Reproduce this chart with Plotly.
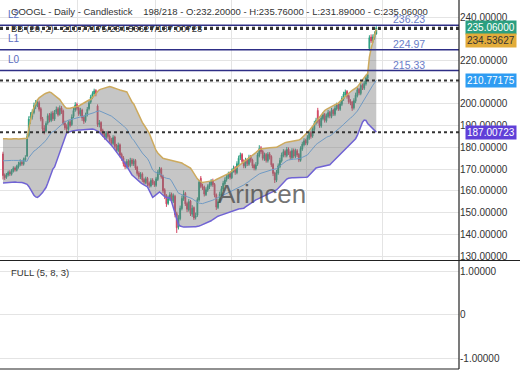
import plotly.graph_objects as go

# ---------------- data ----------------
opens = [177.0,167.2,166.2,167.3,168.6,167.6,169.0,170.5,169.4,171.0,
         172.0,173.2,172.2,174.3,176.0,185.5,193.5,194.0,196.0,199.0,
         200.2,200.5,197.8,193.2,188.8,187.5,191.2,194.8,192.4,195.8,
         193.0,196.2,197.8,195.2,198.2,196.8,191.2,189.5,188.2,191.8,
         190.5,194.2,197.2,199.8,198.0,195.2,197.2,193.8,192.2,195.0,
         197.8,200.8,203.0,204.6,206.2,199.0,190.5,191.5,187.8,186.2,
         184.5,186.8,185.2,183.5,181.8,184.8,180.8,178.5,181.2,176.8,
         175.2,172.8,171.0,173.8,171.5,174.2,172.3,174.0,170.8,168.2,
         166.3,167.8,165.2,163.8,165.8,163.5,162.2,165.0,163.8,162.5,
         165.2,168.3,170.2,166.8,160.5,157.8,154.2,156.2,158.5,155.2,
         157.5,149.5,143.2,147.2,151.8,156.3,158.8,154.2,151.2,155.3,
         149.2,152.3,147.8,148.8,155.8,165.8,162.0,161.8,158.2,160.3,
         161.8,162.8,164.8,163.0,158.2,152.3,155.2,158.2,160.8,163.2,
         165.2,166.2,168.0,166.0,169.2,170.8,168.3,172.2,175.2,176.8,
         173.8,171.2,174.2,172.2,175.8,174.2,171.8,170.2,172.2,176.2,
         179.8,178.2,174.8,176.8,173.8,177.0,175.8,172.2,168.2,164.8,
         168.2,171.2,173.8,176.3,178.2,176.2,179.2,177.8,175.2,178.8,
         175.8,178.5,176.8,174.0,179.2,181.2,183.3,181.8,184.2,186.8,
         185.2,188.2,191.2,197.0,192.2,189.8,193.2,195.2,192.2,194.2,
         196.2,194.2,197.2,195.2,197.8,199.8,197.5,199.8,202.2,204.2,
         205.8,203.8,201.2,200.8,198.2,201.2,203.8,206.8,204.8,208.8,
         207.2,209.2,211.8,225.5,230.8,228.8,230.5,232.2]
highs = [178.0,168.0,168.2,169.3,169.5,170.0,171.3,171.2,172.0,173.4,
         174.5,174.0,175.3,176.4,186.2,194.3,196.2,197.5,200.6,201.8,
         202.2,201.5,198.5,194.0,190.2,192.0,195.6,195.8,196.5,196.8,
         197.2,198.8,198.6,199.3,199.0,197.4,192.3,190.6,192.4,192.8,
         195.2,198.4,200.8,200.6,198.8,198.2,197.8,194.6,196.0,198.6,
         201.6,204.2,205.8,207.0,206.8,199.8,192.6,192.0,188.6,187.0,
         187.5,187.6,186.0,184.4,185.6,185.4,181.6,182.2,181.8,177.6,
         176.0,173.6,174.6,174.5,175.2,175.0,174.8,174.6,171.5,169.0,
         168.6,168.5,166.0,166.5,166.4,164.3,165.8,165.8,164.6,166.4,
         169.5,171.0,170.8,167.4,161.2,158.5,157.8,159.4,159.2,158.8,
         158.2,150.4,148.8,153.2,157.8,160.2,159.5,155.0,156.2,155.8,
         153.4,152.8,150.0,157.0,165.0,166.8,163.2,162.4,161.6,163.0,
         164.2,165.4,165.6,163.6,158.8,156.2,159.6,162.2,164.6,166.2,
         167.6,168.8,168.8,170.2,171.6,171.4,173.6,176.2,177.6,177.4,
         174.5,175.2,175.0,176.6,176.5,174.8,172.5,173.2,177.5,181.0,
         180.6,178.8,177.6,177.4,177.8,177.8,176.4,172.8,168.8,169.6,
         172.6,175.2,177.6,179.2,179.0,180.2,180.0,178.5,179.6,179.5,
         179.4,179.2,177.4,180.5,182.6,184.2,184.0,185.6,187.6,187.6,
         189.6,192.2,193.6,198.2,193.0,194.6,196.2,195.8,195.6,197.2,
         196.8,198.2,197.8,199.2,200.6,200.4,201.2,203.6,205.6,206.6,
         206.4,204.4,202.2,201.4,202.6,205.2,207.6,207.4,209.6,209.4,
         210.6,213.2,214.6,231.6,232.0,232.0,233.4,235.76]
lows = [165.2,165.0,165.5,166.6,166.8,167.0,168.4,168.8,168.9,170.2,
        171.3,171.5,171.6,173.5,175.5,184.6,190.8,192.8,195.2,197.6,
        198.5,196.5,192.0,187.5,186.0,186.8,190.4,191.5,191.6,192.2,
        192.2,195.3,194.2,194.6,195.4,190.2,188.0,187.3,187.6,189.2,
        189.8,193.5,196.4,197.0,194.5,194.4,192.2,190.8,191.4,194.2,
        197.0,200.0,202.2,203.8,203.5,189.4,189.2,186.6,184.8,183.6,
        183.6,184.0,182.2,181.0,181.0,179.6,177.6,177.8,175.4,173.8,
        171.2,170.0,170.2,170.8,170.8,171.5,171.4,169.6,167.0,165.4,
        165.4,164.0,163.0,163.0,162.2,161.4,161.6,162.6,161.8,161.8,
        164.5,167.4,165.6,159.0,156.2,152.6,153.4,155.4,154.4,154.4,
        147.8,140.6,142.2,146.4,151.0,155.4,153.0,150.2,150.4,148.4,
        148.0,146.6,146.8,148.0,155.0,161.2,160.4,157.4,157.6,159.5,
        160.8,162.0,161.8,157.0,151.2,151.6,154.4,157.4,160.0,162.4,
        164.2,165.4,165.2,165.4,168.4,167.4,167.6,171.4,174.2,172.5,
        170.4,170.4,171.4,171.5,173.0,170.4,169.4,169.4,171.5,175.4,
        177.0,174.0,173.8,173.0,173.0,174.4,171.0,166.8,163.6,164.0,
        167.4,170.4,173.0,175.4,175.4,175.4,176.5,174.4,174.4,175.0,
        175.0,175.5,173.2,173.4,178.4,180.4,181.0,181.0,183.4,184.0,
        184.4,187.4,190.4,191.0,189.0,189.0,192.4,191.4,191.4,193.4,
        193.4,193.4,194.5,194.4,197.0,196.8,196.8,199.0,201.4,203.4,
        202.4,200.0,199.4,196.8,197.4,200.4,203.0,204.0,204.0,206.4,
        206.4,208.4,211.0,224.5,228.0,228.0,229.6,231.89]
closes = [167.0,166.0,167.5,168.5,167.8,169.2,170.4,169.6,171.3,172.2,
          173.0,172.4,174.5,175.2,185.0,193.0,194.5,196.3,199.2,200.5,
          200.8,197.5,193.0,188.5,187.2,191.0,194.5,192.6,195.5,193.2,
          196.0,197.5,195.0,198.0,196.5,191.0,189.0,188.5,191.5,190.0,
          194.0,197.0,199.5,198.0,195.5,197.0,193.5,192.0,195.0,197.5,
          200.5,203.2,204.8,206.0,204.6,190.5,191.2,187.5,186.0,184.8,
          186.5,185.0,183.2,182.0,184.5,180.5,178.8,181.0,176.5,175.0,
          172.5,171.0,173.5,171.8,174.0,172.5,173.8,170.5,168.0,166.5,
          167.5,165.0,164.0,165.5,163.2,162.5,164.8,163.5,162.8,165.5,
          168.5,170.0,166.5,160.0,157.5,154.0,156.5,158.2,155.5,157.8,
          149.0,143.0,147.5,152.0,156.5,158.5,154.0,151.5,155.0,149.5,
          152.0,147.5,148.5,156.0,164.0,162.0,161.5,158.5,160.5,162.0,
          163.0,164.5,162.8,158.0,152.5,155.0,158.5,161.0,163.5,165.0,
          166.5,167.8,166.2,169.0,170.5,168.5,172.5,175.0,176.5,173.5,
          171.5,174.0,172.5,175.5,174.0,171.5,170.5,172.0,176.5,179.5,
          178.0,175.0,176.5,174.0,176.8,175.5,172.0,168.0,165.0,168.5,
          171.5,174.0,176.5,178.0,176.5,179.0,177.5,175.5,178.5,176.0,
          178.2,176.5,174.2,179.5,181.5,183.0,182.0,184.5,186.5,185.0,
          188.5,191.0,192.5,192.0,190.0,193.5,195.0,192.5,194.5,196.0,
          194.5,197.0,195.5,198.0,199.5,197.8,200.0,202.5,204.5,205.5,
          203.5,201.0,200.5,198.0,201.5,204.0,206.5,205.0,208.5,207.5,
          209.5,212.0,213.5,230.5,229.0,230.8,232.2,235.06]

bb_upper = [184.0,184.1,184.0,183.9,183.8,183.9,184.0,184.1,184.0,183.9,
            183.9,184.0,183.9,184.0,184.2,188.5,192.5,196.0,198.5,200.4,
            201.8,202.8,203.5,204.0,204.5,204.9,205.2,205.5,205.2,204.6,
            204.0,203.4,202.7,202.0,200.8,199.6,198.6,198.0,197.9,198.0,
            198.2,198.4,198.6,198.7,199.0,199.5,200.0,200.6,201.2,201.6,
            201.8,202.0,202.8,203.7,204.7,205.7,206.5,206.8,207.1,207.4,
            207.7,207.9,208.0,207.8,207.6,207.3,207.0,206.7,206.4,206.1,
            205.8,205.6,205.5,204.0,202.2,200.9,200.0,198.2,196.4,194.6,
            193.0,191.5,190.3,189.1,187.8,186.6,184.5,182.2,180.0,178.6,
            177.4,176.6,175.8,175.0,174.8,174.6,174.4,174.2,174.0,173.8,
            173.6,173.4,173.3,173.3,172.8,172.3,171.8,171.2,170.8,170.5,
            169.3,168.0,166.8,165.5,164.8,164.2,163.8,164.0,164.1,164.2,
            164.3,164.4,164.5,164.8,165.2,165.6,166.0,166.3,166.7,167.0,
            167.3,167.9,168.5,169.1,169.7,170.4,171.0,171.6,172.2,172.8,
            173.4,174.0,174.2,174.8,175.5,176.2,176.9,177.6,178.3,179.0,
            179.2,179.4,179.5,179.6,179.7,179.8,179.9,180.0,180.0,180.0,
            180.5,181.0,181.5,182.0,182.2,182.4,182.5,182.7,182.9,183.1,
            183.2,183.3,183.4,183.8,184.6,185.4,186.0,186.6,187.6,188.7,
            189.8,190.9,192.0,193.0,194.0,195.0,196.0,197.0,197.5,198.0,
            198.4,198.8,199.2,199.6,200.0,200.4,201.2,202.0,202.8,203.6,
            204.3,205.0,205.6,206.2,206.8,207.3,207.8,208.9,210.1,211.3,
            212.4,213.2,214.0,221.5,225.5,229.0,231.8,234.53627]
bb_middle = [173.8,173.9,173.9,173.9,173.9,174.0,174.0,174.1,174.0,174.0,
             173.9,173.9,173.8,173.7,173.6,175.3,176.5,177.6,178.3,178.8,
             179.4,180.2,180.9,181.6,182.5,183.2,184.4,185.7,186.7,187.3,
             187.5,188.3,189.1,189.9,190.4,191.1,191.7,192.3,192.5,192.7,
             192.9,193.1,193.2,193.4,193.5,193.8,194.1,194.4,194.8,195.0,
             195.2,195.3,195.7,196.0,196.4,196.6,196.8,196.5,196.2,195.9,
             195.6,195.3,195.0,194.4,193.8,193.2,192.5,191.9,191.2,190.6,
             189.9,189.1,188.4,186.9,185.3,184.1,183.3,182.0,180.7,179.5,
             178.4,177.4,176.5,175.7,174.8,173.4,171.6,169.6,168.8,168.4,
             168.1,168.1,167.3,166.5,166.1,165.8,165.6,165.5,164.5,163.2,
             161.7,160.2,158.9,158.6,158.1,157.8,157.6,157.3,157.1,157.0,
             156.4,155.8,155.2,154.5,154.3,154.2,154.1,154.4,154.6,154.8,
             155.0,155.3,155.7,156.1,156.6,157.0,157.3,157.6,158.0,158.3,
             158.5,158.9,159.3,159.8,160.2,160.7,161.2,161.6,162.0,162.4,
             162.7,163.3,163.7,164.3,165.0,165.6,166.2,166.7,167.3,167.8,
             168.1,168.4,168.7,168.8,169.1,169.3,169.6,169.8,170.0,170.2,
             170.9,171.5,172.3,173.0,173.5,173.9,174.2,174.4,174.5,174.6,
             174.6,174.7,174.8,175.0,175.4,175.9,176.2,176.5,177.5,178.5,
             179.4,180.4,181.3,181.9,182.5,183.1,183.7,184.3,184.6,185.0,
             185.2,185.8,186.4,187.0,187.6,188.2,189.0,189.8,190.6,191.4,
             192.2,192.8,193.5,194.1,194.9,195.7,196.7,198.0,199.4,200.8,
             202.2,203.3,204.4,205.8,207.3,208.6,209.7,210.77175]
bb_lower = [163.6,163.7,163.8,163.8,163.9,164.0,164.0,164.1,164.0,164.0,
            163.9,163.8,163.6,163.3,163.0,162.0,160.5,159.2,158.0,157.2,
            157.0,157.5,158.3,159.2,160.4,161.5,163.5,165.8,168.2,170.0,
            171.0,173.2,175.5,177.8,180.0,182.5,184.8,186.6,187.0,187.3,
            187.5,187.7,187.8,188.0,188.0,188.0,188.1,188.2,188.3,188.4,
            188.5,188.5,188.5,188.3,188.0,187.5,187.0,186.2,185.3,184.4,
            183.5,182.7,182.0,181.0,180.0,179.0,178.0,177.0,176.0,175.0,
            174.0,172.6,171.2,169.8,168.3,167.3,166.6,165.8,165.0,164.4,
            163.8,163.2,162.6,162.2,161.8,160.2,158.6,157.0,157.6,158.2,
            158.8,159.5,158.8,158.0,157.3,156.9,156.8,156.7,155.0,152.5,
            149.8,147.0,144.5,143.8,143.4,143.3,143.3,143.4,143.4,143.4,
            143.5,143.5,143.5,143.5,143.8,144.1,144.4,144.7,145.0,145.3,
            145.6,146.2,146.8,147.4,148.0,148.3,148.6,148.9,149.2,149.5,
            149.7,149.8,150.1,150.4,150.7,151.0,151.3,151.6,151.8,152.0,
            152.0,152.6,153.2,153.8,154.4,155.0,155.4,155.8,156.2,156.6,
            157.0,157.4,157.8,158.0,158.4,158.8,159.2,159.6,160.0,160.4,
            161.2,162.0,163.0,164.0,164.8,165.4,165.8,166.0,166.0,166.0,
            166.0,166.0,166.1,166.2,166.2,166.3,166.3,166.4,167.3,168.2,
            169.0,169.8,170.5,170.7,170.9,171.1,171.3,171.5,171.7,171.9,
            172.0,172.8,173.6,174.4,175.2,176.0,176.8,177.6,178.4,179.2,
            180.0,180.6,181.3,182.0,183.0,184.0,185.5,187.5,189.8,191.6,
            192.6,192.4,191.0,190.2,189.2,188.3,187.6,187.00723]

level_names = ["L2", "L1", "L0"]
level_values = [236.23, 224.97, 215.33]
last_close = 235.06
price_ticks = [130, 140, 150, 160, 170, 180, 190, 200, 210, 220, 230, 240]
# 210 and 230 labels are covered by value boxes in the reference
price_tick_text = ["130.00000", "140.00000", "150.00000", "160.00000", "170.00000",
                   "180.00000", "190.00000", "200.00000", "", "220.00000", "", "240.00000"]
osc_ticks = [-1, 0, 1]
osc_labels = ["-1.00000", "0", "1.00000"]
header = ("GOOGL - Daily - Candlestick\u00a0\u00a0\u00a0\u00a0198/218 - O:232.20000 - "
          "H:235.76000 - L:231.89000 - C:235.06000")

n = len(closes)
for arr in (opens, highs, lows, bb_upper, bb_middle, bb_lower):
    assert len(arr) == n, len(arr)
idx = list(range(n))

# ---------------- layout geometry ----------------
W, H = 520, 390
ML, MR, MT, MB = 0, 61, 0, 21
PW = W - ML - MR          # 459
PH = H - MT - MB          # 369
def px(x):  # pixel x -> paper
    return (x - ML) / PW
def py(y):  # pixel y -> paper
    return (PH - (y - MT)) / PH

FONT = "Liberation Sans, Arial, sans-serif"
GREEN = "#2b9f80"
RED = "#d24662"
GRID = "#e4e4e4"

fig = go.Figure()

fig.add_trace(go.Scatter(x=idx, y=bb_lower, mode="lines",
                         line=dict(color="#7063d4", width=1.5),
                         hoverinfo="skip", showlegend=False))
fig.add_trace(go.Scatter(x=idx, y=bb_upper, mode="lines", fill="tonexty",
                         fillcolor="rgba(120,120,120,0.42)",
                         line=dict(color="#cdaa5e", width=1.5),
                         hoverinfo="skip", showlegend=False))
fig.add_trace(go.Scatter(x=idx, y=bb_middle, mode="lines",
                         line=dict(color="#6f9ac4", width=1),
                         hoverinfo="skip", showlegend=False))
fig.add_trace(go.Candlestick(x=idx, open=opens, high=highs, low=lows, close=closes,
                             increasing=dict(line=dict(color=GREEN, width=1), fillcolor=GREEN),
                             decreasing=dict(line=dict(color=RED, width=1), fillcolor=RED),
                             showlegend=False, hoverinfo="skip"))
# empty oscillator panel
fig.add_trace(go.Scatter(x=[], y=[], xaxis="x2", yaxis="y2", showlegend=False))

shapes = []
for v in level_values:
    shapes.append(dict(type="line", xref="paper", x0=0, x1=1, yref="y", y0=v, y1=v,
                       line=dict(color="#2e2e86", width=1.5), layer="above"))
for v in [last_close, bb_upper[-1], bb_middle[-1], bb_lower[-1]]:
    shapes.append(dict(type="line", xref="paper", x0=0, x1=1, yref="y", y0=v, y1=v,
                       line=dict(color="#333333", width=2, dash="dot"), layer="above"))
shapes.append(dict(type="line", xref="paper", x0=0, x1=W / PW, yref="paper",
                   y0=py(260.5), y1=py(260.5), line=dict(color="#222", width=1.2)))
shapes.append(dict(type="line", xref="paper", x0=0, x1=1, yref="paper",
                   y0=py(369), y1=py(369), line=dict(color="#222", width=1.2)))
shapes.append(dict(type="line", xref="paper", x0=1, x1=1, yref="paper",
                   y0=0, y1=1, line=dict(color="#222", width=1.2)))

ann = []
ann.append(dict(text=header, xref="paper", yref="paper", x=px(9), y=py(12),
                xanchor="left", yanchor="middle", showarrow=False,
                font=dict(family=FONT, size=9.5, color="#333")))
ann.append(dict(text="BB (20, 2) - %.5f/%.5f/%.5f" % (bb_middle[-1], bb_upper[-1], bb_lower[-1]),
                xref="paper", yref="paper", x=px(9), y=py(29),
                xanchor="left", yanchor="middle", showarrow=False,
                font=dict(family=FONT, size=9.5, color="#333")))
for name, v in zip(level_names, level_values):
    ann.append(dict(text=name, xref="paper", yref="y", x=px(6), y=v, yshift=11,
                    xanchor="left", yanchor="middle", showarrow=False,
                    font=dict(family=FONT, size=10, color="#5b6cc0")))
    ann.append(dict(text="%.2f" % v, xref="paper", yref="y", x=px(409), y=v, yshift=6,
                    xanchor="center", yanchor="middle", showarrow=False,
                    font=dict(family=FONT, size=10.5, color="#6a7dc8")))
ann.append(dict(text="Arincen", xref="paper", yref="paper", x=px(262), y=py(194),
                xanchor="center", yanchor="middle", showarrow=False,
                font=dict(family=FONT, size=26, color="rgba(70,70,70,0.75)")))
ann.append(dict(text="FULL (5, 8, 3)", xref="paper", yref="paper", x=px(9), y=py(273),
                xanchor="left", yanchor="middle", showarrow=False,
                font=dict(family=FONT, size=9.5, color="#333")))
boxes = [(last_close, 0, GREEN, "#ffffff"),
         (bb_upper[-1], -12, "#e2ac3a", "#333333"),
         (bb_middle[-1], 0, "#2e9cf2", "#ffffff"),
         (bb_lower[-1], 0, "#5f3fd8", "#ffffff")]
for v, shift, bg, fg in boxes:
    ann.append(dict(text="%.5f" % v, xref="paper", yref="y", x=px(465), y=v, yshift=shift,
                    xanchor="left", yanchor="middle", showarrow=False,
                    bgcolor=bg, borderpad=1,
                    font=dict(family=FONT, size=10, color=fg)))

fig.update_layout(
    width=W, height=H,
    margin=dict(l=ML, r=MR, t=MT, b=MB),
    paper_bgcolor="white", plot_bgcolor="white",
    showlegend=False,
    font=dict(family=FONT, size=10, color="#333"),
    xaxis=dict(range=[-1.74, 265.1], domain=[0, 1], anchor="y",
               showticklabels=False, ticks="", tickmode="array",
               tickvals=[43.6, 88.4, 132.6, 176.7, 220.9],
               showgrid=True, gridcolor=GRID, zeroline=False,
               rangeslider=dict(visible=False), fixedrange=True),
    yaxis=dict(domain=[py(260), 1], range=[128.16, 247.83], side="right",
               tickmode="array", tickvals=price_ticks, ticktext=price_tick_text,
               showgrid=True, gridcolor=GRID, zeroline=False, ticks="",
               tickfont=dict(family=FONT, size=10, color="#333")),
    xaxis2=dict(range=[-1.74, 265.1], domain=[0, 1], anchor="y2", matches="x",
                showticklabels=False, ticks="", showgrid=False, zeroline=False),
    yaxis2=dict(domain=[0, py(261)], range=[-1.253, 1.23], side="right", anchor="x2",
                tickmode="array", tickvals=osc_ticks, ticktext=osc_labels,
                showgrid=True, gridcolor=GRID, zeroline=False, ticks="",
                tickfont=dict(family=FONT, size=10, color="#333")),
    shapes=shapes,
    annotations=ann,
)

fig.write_html("out.html")
